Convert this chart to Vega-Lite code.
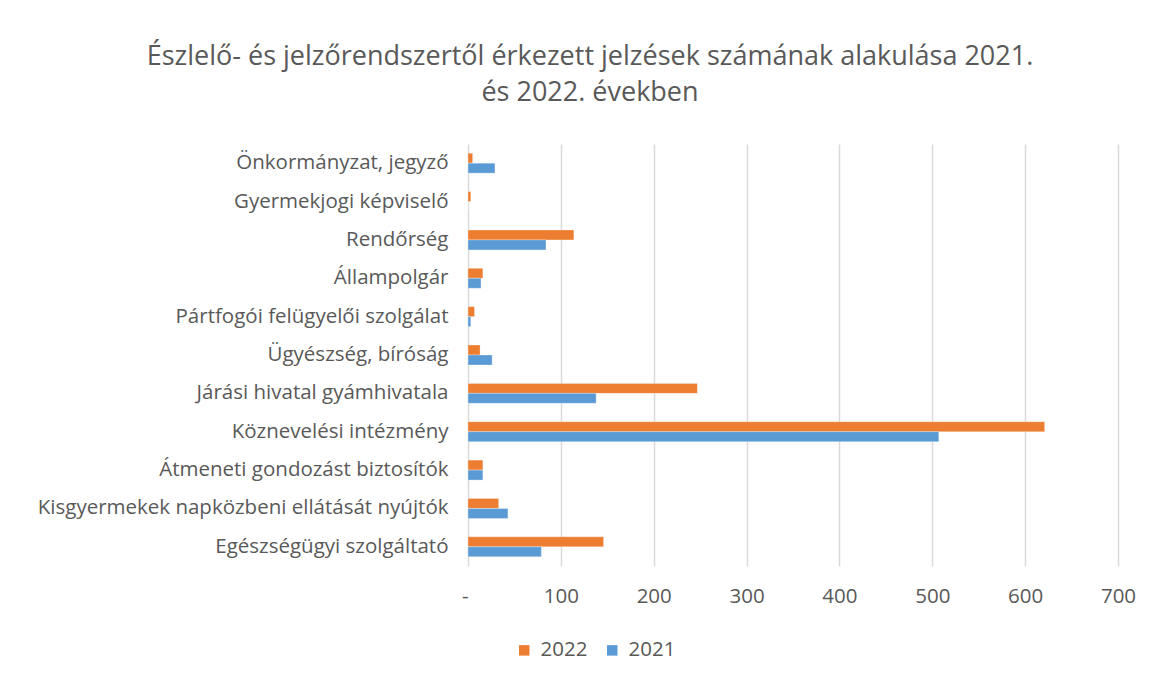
{
  "$schema": "https://vega.github.io/schema/vega-lite/v6.json",
  "autosize": {"type": "none"},
  "width": 650,
  "height": 422,
  "padding": {"left": 468, "top": 144, "right": 50, "bottom": 113},
  "background": "white",
  "title": {
    "text": ["Észlelő- és jelzőrendszertől érkezett jelzések számának alakulása 2021.", "és 2022. években"],
    "anchor": "middle",
    "frame": "group",
    "dx": -203,
    "offset": 37,
    "font": "Open Sans",
    "fontSize": 27,
    "fontWeight": "normal",
    "color": "#595959",
    "lineHeight": 36
  },
  "data": {
    "values": [
      {"kategoria": "Önkormányzat, jegyző", "ev": "2022", "ertek": 5},
      {"kategoria": "Önkormányzat, jegyző", "ev": "2021", "ertek": 29},
      {"kategoria": "Gyermekjogi képviselő", "ev": "2022", "ertek": 3},
      {"kategoria": "Gyermekjogi képviselő", "ev": "2021", "ertek": 0},
      {"kategoria": "Rendőrség", "ev": "2022", "ertek": 114},
      {"kategoria": "Rendőrség", "ev": "2021", "ertek": 84},
      {"kategoria": "Állampolgár", "ev": "2022", "ertek": 16},
      {"kategoria": "Állampolgár", "ev": "2021", "ertek": 14},
      {"kategoria": "Pártfogói felügyelői szolgálat", "ev": "2022", "ertek": 7},
      {"kategoria": "Pártfogói felügyelői szolgálat", "ev": "2021", "ertek": 3},
      {"kategoria": "Ügyészség, bíróság", "ev": "2022", "ertek": 13},
      {"kategoria": "Ügyészség, bíróság", "ev": "2021", "ertek": 26},
      {"kategoria": "Járási hivatal gyámhivatala", "ev": "2022", "ertek": 247},
      {"kategoria": "Járási hivatal gyámhivatala", "ev": "2021", "ertek": 138},
      {"kategoria": "Köznevelési intézmény", "ev": "2022", "ertek": 621},
      {"kategoria": "Köznevelési intézmény", "ev": "2021", "ertek": 507},
      {"kategoria": "Átmeneti gondozást biztosítók", "ev": "2022", "ertek": 16},
      {"kategoria": "Átmeneti gondozást biztosítók", "ev": "2021", "ertek": 16},
      {"kategoria": "Kisgyermekek napközbeni ellátását nyújtók", "ev": "2022", "ertek": 33},
      {"kategoria": "Kisgyermekek napközbeni ellátását nyújtók", "ev": "2021", "ertek": 43},
      {"kategoria": "Egészségügyi szolgáltató", "ev": "2022", "ertek": 146},
      {"kategoria": "Egészségügyi szolgáltató", "ev": "2021", "ertek": 79}
    ]
  },
  "mark": {"type": "bar", "stroke": "white", "strokeWidth": 0.5, "strokeOpacity": 0.6},
  "encoding": {
    "y": {
      "field": "kategoria",
      "type": "nominal",
      "sort": null,
      "scale": {"paddingInner": 0.48, "paddingOuter": 0.24},
      "axis": {
        "title": null,
        "ticks": false,
        "domain": false,
        "labelFont": "Open Sans",
        "labelFontSize": 20.5,
        "labelColor": "#595959",
        "labelPadding": 20,
        "labelLimit": 600
      }
    },
    "yOffset": {
      "field": "ev",
      "type": "nominal",
      "sort": ["2022", "2021"]
    },
    "x": {
      "field": "ertek",
      "type": "quantitative",
      "scale": {"domain": [0, 700], "nice": false},
      "axis": {
        "title": null,
        "values": [0, 100, 200, 300, 400, 500, 600, 700],
        "labelExpr": "datum.value === 0 ? '-' : datum.label",
        "labelAlign": {"condition": {"test": "datum.value === 0", "value": "right"}, "value": "center"},
        "ticks": false,
        "domain": false,
        "grid": true,
        "gridColor": "#D9D9D9",
        "gridWidth": 1.5,
        "labelFont": "Open Sans",
        "labelFontSize": 20.5,
        "labelColor": "#595959",
        "labelPadding": 20
      }
    },
    "color": {
      "field": "ev",
      "type": "nominal",
      "sort": ["2022", "2021"],
      "scale": {"domain": ["2022", "2021"], "range": ["#ED7D31", "#5B9BD5"]},
      "legend": {
        "title": null,
        "orient": "none",
        "direction": "horizontal",
        "legendX": 46,
        "legendY": 496,
        "symbolType": "square",
        "symbolSize": 110,
        "symbolStrokeWidth": 0,
        "labelFont": "Open Sans",
        "labelFontSize": 20.5,
        "labelColor": "#595959",
        "columnPadding": 14,
        "labelOffset": 6
      }
    }
  },
  "config": {"view": {"stroke": null}}
}
